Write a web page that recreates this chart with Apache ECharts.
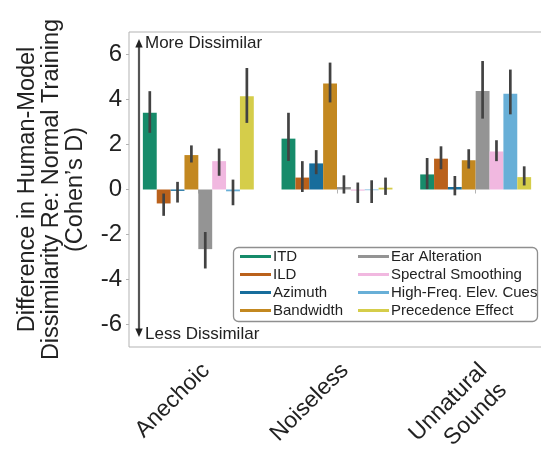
<!DOCTYPE html>
<html>
<head>
<meta charset="utf-8">
<script src="https://cdn.jsdelivr.net/npm/echarts@6/dist/echarts.min.js"></script>
<style>
  html, body { margin: 0; padding: 0; background: #fff; }
  #chart { width: 541px; height: 452px; }
</style>
</head>
<body>
<div id="chart"></div>
<script>
// Training-environment conditions on the x axis
const categories = ['Anechoic', 'Noiseless', 'Unnatural\nSounds'];

// Manipulation names, in plotting order
const seriesNames = ['ITD', 'ILD', 'Azimuth', 'Bandwidth', 'Ear Alteration',
  'Spectral Smoothing', 'High-Freq. Elev. Cues', 'Precedence Effect'];

// Effect size (Cohen's D) per condition, and its confidence interval [low, high]
const itdVals = [3.41, 2.26, 0.67];
const itdCI = [[2.52, 4.37], [1.27, 3.41], [0.02, 1.40]];
const ildVals = [-0.62, 0.53, 1.37];
const ildCI = [[-1.17, -0.18], [-0.11, 1.26], [0.90, 1.92]];
const azimuthVals = [-0.06, 1.16, 0.11];
const azimuthCI = [[-0.58, 0.34], [0.68, 1.75], [-0.26, 0.60]];
const bandwidthVals = [1.53, 4.71, 1.30];
const bandwidthCI = [[1.20, 1.96], [3.87, 5.64], [0.93, 1.79]];
const earVals = [-2.65, 0.11, 4.38];
const earCI = [[-3.51, -1.89], [-0.18, 0.63], [3.15, 5.71]];
const spectralVals = [1.26, -0.05, 1.69];
const spectralCI = [[0.61, 1.82], [-0.60, 0.31], [1.26, 2.19]];
const highFreqVals = [-0.08, -0.03, 4.26];
const highFreqCI = [[-0.70, 0.44], [-0.60, 0.41], [3.34, 5.33]];
const precedenceVals = [4.14, 0.08, 0.55];
const precedenceCI = [[2.96, 5.40], [-0.24, 0.53], [0.18, 1.03]];

// Y tick labels
const yTicks = [-6, -4, -2, 0, 2, 4, 6];

const allVals = [itdVals, ildVals, azimuthVals, bandwidthVals, earVals,
  spectralVals, highFreqVals, precedenceVals];
const allCI = [itdCI, ildCI, azimuthCI, bandwidthCI, earCI,
  spectralCI, highFreqCI, precedenceCI];

// Muted colour-blind palette
const colors = ['#168b6a', '#ba611b', '#176d9c', '#c38820', '#949494',
  '#f1b8e0', '#68afd7', '#d5cd4a'];

const FONT = "'Liberation Sans', Arial, Helvetica, sans-serif";
const TEXT = '#222222';

const barSeries = seriesNames.map((name, s) => ({
  name: name,
  type: 'bar',
  data: allVals[s],
  barGap: '0%',
  barCategoryGap: '20%',
  itemStyle: { color: colors[s] },
  emphasis: { disabled: true },
  z: 2
}));

// Error bars: one vertical segment per bar
const errData = [];
allCI.forEach((ci, s) => ci.forEach((c, i) => errData.push([i, c[0], c[1], s])));

const errSeries = {
  type: 'custom',
  name: 'ci',
  data: errData,
  encode: { x: 0, y: [1, 2] },
  z: 5,
  silent: true,
  renderItem: function (params, api) {
    const cat = api.value(0);
    const lo = api.value(1);
    const hi = api.value(2);
    const s = api.value(3);
    const band = api.size([1, 0])[0];
    const barW = band * 0.8 / seriesNames.length;
    const x = api.coord([cat, 0])[0] + (s - (seriesNames.length - 1) / 2) * barW;
    const y1 = api.coord([cat, hi])[1];
    const y2 = api.coord([cat, lo])[1];
    return {
      type: 'line',
      shape: { x1: x, y1: y1, x2: x, y2: y2 },
      style: { stroke: '#424242', lineWidth: 2.7 }
    };
  }
};

const legendCommon = {
  orient: 'vertical',
  top: 249,
  padding: 0,
  itemGap: 3,
  itemWidth: 31,
  itemHeight: 3,
  icon: 'rect',
  selectedMode: false,
  textStyle: { fontFamily: FONT, fontSize: 15, color: TEXT, padding: [0, 0, 0, -3], lineHeight: 15 }
};

const chart = echarts.init(document.getElementById('chart'), null, { renderer: 'canvas' });

chart.setOption({
  animation: false,
  backgroundColor: '#ffffff',
  color: colors,
  grid: {
    left: 129, top: 32, right: -4, bottom: 105,
    outerBoundsMode: 'none',
    containLabel: false,
    show: true, borderColor: '#b3b3b3', borderWidth: 1, backgroundColor: 'transparent'
  },
  xAxis: {
    type: 'category',
    data: categories,
    axisLine: { show: false },
    axisTick: { show: true, alignWithLabel: true, length: 4, lineStyle: { color: '#b3b3b3' } },
    axisLabel: {
      rotate: 45,
      margin: 8,
      align: 'right',
      verticalAlign: 'top',
      padding: [0, 3, 0, 0],
      fontFamily: FONT,
      fontSize: 23,
      lineHeight: 28,
      color: TEXT
    }
  },
  yAxis: {
    type: 'value',
    min: -7,
    max: 7,
    name: 'Difference in Human-Model\nDissimilarity Re: Normal Training\n(Cohen\u2019s D)',
    nameLocation: 'middle',
    nameGap: 41,
    nameTextStyle: { fontFamily: FONT, fontSize: 23.5, lineHeight: 24, color: TEXT },
    axisLine: { show: false },
    splitLine: { show: false },
    axisTick: { show: true, length: 3, customValues: yTicks, lineStyle: { color: '#b3b3b3' } },
    axisLabel: { customValues: yTicks, margin: 7, fontFamily: FONT, fontSize: 24, color: TEXT }
  },
  legend: [
    Object.assign({}, legendCommon, { left: 240, data: seriesNames.slice(0, 4) }),
    Object.assign({}, legendCommon, { left: 358, data: seriesNames.slice(4) })
  ],
  series: barSeries.concat([errSeries]),
  graphic: [
    // legend frame
    {
      type: 'rect', z: -1, zlevel: 0,
      shape: { x: 233.5, y: 247.5, width: 304, height: 74, r: 5 },
      style: { fill: 'rgba(255,255,255,0.85)', stroke: '#8f8f8f', lineWidth: 1.3 }
    },
    // double-headed direction arrow
    {
      type: 'line',
      shape: { x1: 139, y1: 45, x2: 139, y2: 331 },
      style: { stroke: '#555555', lineWidth: 2.2 }
    },
    {
      type: 'polygon',
      shape: { points: [[139, 39], [135.3, 47.5], [142.7, 47.5]] },
      style: { fill: '#222222' }
    },
    {
      type: 'polygon',
      shape: { points: [[139, 337], [135.3, 328.5], [142.7, 328.5]] },
      style: { fill: '#222222' }
    },
    {
      type: 'text', x: 145, y: 43,
      style: { text: 'More Dissimilar', font: '17px ' + FONT, fill: TEXT, verticalAlign: 'middle' }
    },
    {
      type: 'text', x: 145, y: 334,
      style: { text: 'Less Dissimilar', font: '17px ' + FONT, fill: TEXT, verticalAlign: 'middle' }
    }
  ]
});
</script>
</body>
</html>
